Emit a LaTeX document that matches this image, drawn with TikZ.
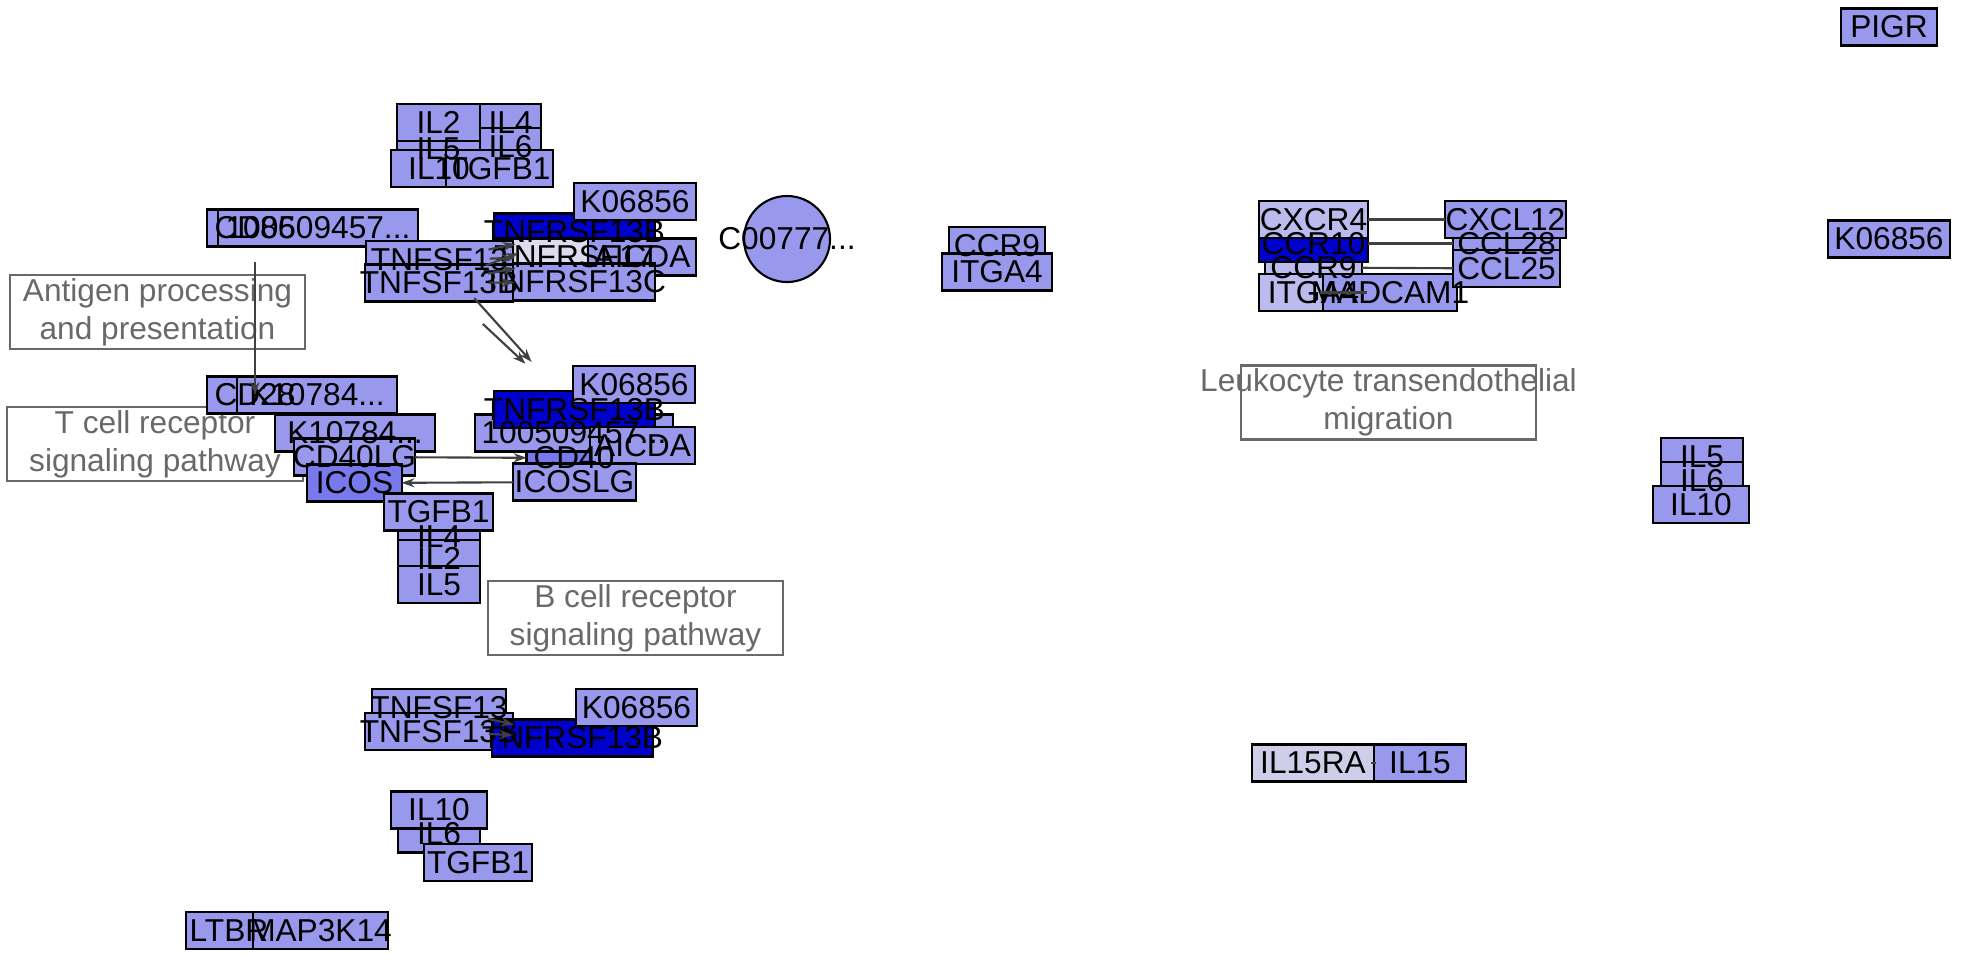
\documentclass[tikz,border=0pt]{standalone}
\usepackage{fontspec}
\setmainfont{Liberation Sans}
\usetikzlibrary{arrows.meta}
\definecolor{lav}{RGB}{152,152,236}
\definecolor{dark}{RGB}{0,0,205}
\definecolor{mid}{RGB}{121,121,238}
\definecolor{light}{RGB}{187,187,238}
\definecolor{pale}{RGB}{220,220,236}
\definecolor{paleb}{RGB}{206,206,232}
\definecolor{edgec}{RGB}{64,64,64}
\definecolor{mapgray}{RGB}{105,105,105}
\def\elip{...}

\def\genelist{il5a/438.5/148.5/83/lav/IL5, il2a/438.5/122.5/83/lav/IL2,
  il4a/510.5/122.5/61/lav/IL4, il6a/510.5/146.5/61/lav/IL6,
  il10a/439/168.5/96/lav/IL10, tgfb1a/499.5/168.5/107/lav/TGFB1,
  cd86/255/228/96/lav/CD86, loca/318/228/200/lav/100509457\elip,
  cd28/255/395/96/lav/CD28, k10784a/317/395/160/lav/K10784\elip,
  k10784b/355/433/160/lav/K10784\elip, cd40lg/354.5/457/121/lav/CD40LG,
  icos/354.5/483/95/mid/ICOS,
  il4b/439/536.5/82/lav/IL4, il2b/439/558.5/82/lav/IL2,
  il5b/439/584.5/82/lav/IL5, tgfb1b/438.5/512/109/lav/TGFB1,
  tnfrsf13ba/574.5/232/161/dark/TNFRSF13B, k06856a/635/201.5/122/lav/K06856,
  tnfrsf17/574.5/257/161/pale/TNFRSF17, aicdaa/642/257/108/lav/AICDA,
  tnfrsf13c/574.5/282/161/lav/TNFRSF13C,
  tnfsf13a/439.5/259.5/147/lav/TNFSF13, tnfsf13ba/439/283/148/lav/TNFSF13B,
  ccr9a/997/245.5/96/lav/CCR9, itga4a/997/272/110/lav/ITGA4,
  cd40/574/458/95/mid/CD40, locb/574/433/198/lav/100509457\elip,
  tnfrsf13bb/574.5/409.5/161/dark/TNFRSF13B, k06856b/634/384.5/122/lav/K06856,
  aicdab/642.5/445.5/105/lav/AICDA, icoslg/574.5/482/123/lav/ICOSLG,
  tnfsf13b/439/707.5/134/lav/TNFSF13, tnfsf13bb/439/731.5/148/lav/TNFSF13B,
  tnfrsf13bc/572.5/738/161/dark/TNFRSF13B, k06856c/636.5/707.5/121/lav/K06856,
  il6b/439/834/82/lav/IL6, il10b/439/810/96/lav/IL10,
  tgfb1c/478/862.5/108/lav/TGFB1,
  ltbr/229/930.5/86/lav/LTBR, map3k14/320.5/930.5/135/lav/MAP3K14,
  ccr9b/1313.5/267.5/97/light/CCR9, ccr10/1313.5/243.5/109/dark/CCR10,
  cxcr4/1313.5/219.5/109/light/CXCR4, itga4b/1313.5/292.5/109/light/ITGA4,
  madcam1/1390/292.5/134/lav/MADCAM1,
  ccl28/1506.5/243.5/107/lav/CCL28, cxcl12/1505.5/219.5/121/lav/CXCL12,
  ccl25/1506.5/268.5/107/lav/CCL25,
  il15ra/1313/763/122/paleb/IL15RA, il15/1420/763/92/lav/IL15,
  pigr/1889/27/96/lav/PIGR, k06856d/1889/239/122/lav/K06856,
  il5c/1702/456.5/82/lav/IL5, il6c/1702/480.5/82/lav/IL6,
  il10c/1701/504.5/96/lav/IL10}

\begin{document}
\begin{tikzpicture}[x=0.01cm, y=-0.01cm]
        \tikzstyle{gene}=[draw, line width=0.6pt, inner sep=0pt, minimum height=0.37cm]
        \tikzstyle{txt}=[inner sep=0pt, font=\fontsize{9}{10.8}\selectfont]
        \tikzstyle{pathbox}=[draw=mapgray, line width=0.6pt, inner sep=0pt, minimum width=2.95cm, minimum height=0.74cm]
        \tikzstyle{pathtxt}=[txt, text=mapgray, align=center]
        \tikzstyle{arr}=[draw=edgec, line width=0.6pt, -{Stealth[length=0.13cm, width=0.09cm]}]
        \tikzstyle{link}=[draw=edgec, line width=0.6pt]

        \useasboundingbox (0,0) rectangle (1963,953);

        \node[pathbox] (antigen) at (157.5,312) {};
        \node[pathbox] (tcell) at (155,444) {};
        \node[pathbox] (bcell) at (635.5,618) {};
        \node[pathbox] (leuko) at (1388.5,402.5) {};
        \node[pathtxt] (antigen-t) at (antigen) {Antigen processing\\and presentation};
        \node[pathtxt] (tcell-t) at (tcell) {T cell receptor\\signaling pathway};
        \node[pathtxt] (bcell-t) at (bcell) {B cell receptor\\signaling pathway};
        \node[pathtxt] (leuko-t) at (leuko) {Leukocyte transendothelial\\migration};

        \foreach \n/\x/\y/\w/\c/\t in \genelist
            \node[gene, fill=\c, minimum width=\w*0.01cm] (\n) at (\x,\y) {};
        \node[circle, draw, line width=0.6pt, fill=lav, inner sep=0pt, minimum size=0.86cm] (c00777) at (787,239) {};

        \foreach \n/\x/\y/\w/\c/\t in \genelist
            \node[txt] (\n-t) at (\n) {\t};
        \node[txt] (c00777-t) at (c00777) {C00777\elip};

        \draw[arr, shorten <=0.34cm] (cd86.center) -- (cd28.center);
        \foreach \a/\b in {tnfsf13a/tnfrsf13ba, tnfsf13a/tnfrsf17, tnfsf13ba/tnfrsf13ba, tnfsf13ba/tnfrsf17, tnfsf13ba/tnfrsf13c, tnfsf13b/tnfrsf13bc, tnfsf13bb/tnfrsf13bc}
            \draw[arr, shorten <=0.5cm, shorten >=0.6cm] (\a.center) -- (\b.center);
        \draw[arr, shorten <=0.52cm, shorten >=0.64cm] (tnfsf13a.center) -- (tnfrsf13bb.center);
        \draw[arr, shorten <=0.60cm, shorten >=0.67cm] (tnfsf13ba.center) -- (tnfrsf13bb.center);
        \draw[arr, shorten <=0.605cm, shorten >=0.473cm] (cd40lg.center) -- (cd40.center);
        \draw[arr, shorten <=0.615cm, shorten >=0.47cm] (icoslg.center) -- (icos.center);

        \draw[link, shorten <=0.545cm, shorten >=0.605cm] (cxcr4.center) -- (cxcl12.center);
        \draw[link, shorten <=0.545cm, shorten >=0.535cm] (ccr10.center) -- (ccl28.center);
        \draw[link, shorten <=0.485cm, shorten >=0.535cm] (ccr9b.center) -- (ccl25.center);
        \draw[link, shorten <=0.065cm, shorten >=0.23cm] (itga4b.center) -- (madcam1.center);
        \draw[link, shorten <=0.58cm, shorten >=0.44cm] (il15ra.center) -- (il15.center);
    \end{tikzpicture}
\end{document}
